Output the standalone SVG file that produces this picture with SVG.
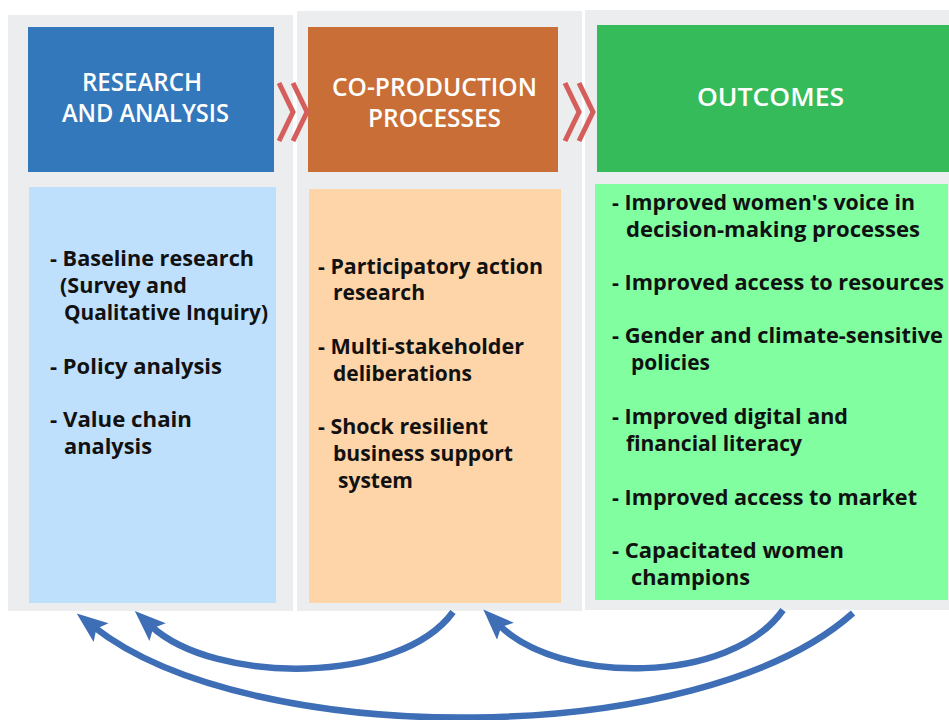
<svg xmlns="http://www.w3.org/2000/svg" width="949" height="720" viewBox="0 0 949 720">
  <style>
    .panel { fill: #ECEDEF; }
    .head { fill: #FFFFFF; font-family: "Open Sans", "Noto Sans", sans-serif; font-weight: 600; font-size: 25px; }
    .body { fill: #111111; font-family: "Open Sans", "Noto Sans", sans-serif; font-weight: 700; font-size: 21px; }
    .chev { fill: none; stroke: #D45E5C; stroke-width: 5; stroke-linejoin: miter; stroke-miterlimit: 10; }
    .loop { fill: none; stroke: #3D6EB6; stroke-width: 6.5; marker-end: url(#head); }
  </style>
  <defs>
    <marker id="head" markerUnits="userSpaceOnUse" markerWidth="36" markerHeight="26" refX="11" refY="12" orient="auto">
      <path d="M33,12 L2,0 L8,12 L2,24 Z" fill="#3D6EB6"/>
    </marker>
  </defs>
  <rect width="949" height="720" fill="#FFFFFF"/>

  <!-- Research and analysis -->
  <g id="research">
    <rect class="panel" x="8" y="15" width="285" height="596"/>
    <rect x="28" y="27" width="246" height="145" fill="#3478BC"/>
    <text class="head" x="82" y="91" textLength="120" lengthAdjust="spacingAndGlyphs">RESEARCH</text>
    <text class="head" x="62" y="122" textLength="167" lengthAdjust="spacingAndGlyphs">AND ANALYSIS</text>
    <rect x="29" y="187" width="247" height="416" fill="#BFE0FC"/>
    <text class="body" x="50" y="266" textLength="204" lengthAdjust="spacingAndGlyphs">- Baseline research</text>
    <text class="body" x="60" y="293" textLength="127" lengthAdjust="spacingAndGlyphs">(Survey and</text>
    <text class="body" x="64" y="320" textLength="204" lengthAdjust="spacingAndGlyphs">Qualitative Inquiry)</text>
    <text class="body" x="50" y="374" textLength="172" lengthAdjust="spacingAndGlyphs">- Policy analysis</text>
    <text class="body" x="50" y="427" textLength="142" lengthAdjust="spacingAndGlyphs">- Value chain</text>
    <text class="body" x="64" y="454" textLength="88" lengthAdjust="spacingAndGlyphs">analysis</text>
  </g>

  <!-- Co-production processes -->
  <g id="coproduction">
    <rect class="panel" x="297" y="11" width="285" height="600"/>
    <rect x="308" y="27" width="250" height="145" fill="#C86E36"/>
    <text class="head" x="332" y="96" textLength="205" lengthAdjust="spacingAndGlyphs">CO-PRODUCTION</text>
    <text class="head" x="368" y="127" textLength="133" lengthAdjust="spacingAndGlyphs">PROCESSES</text>
    <rect x="309" y="189" width="252" height="414" fill="#FED5A8"/>
    <text class="body" x="318" y="274" textLength="225" lengthAdjust="spacingAndGlyphs">- Participatory action</text>
    <text class="body" x="333" y="300" textLength="92" lengthAdjust="spacingAndGlyphs">research</text>
    <text class="body" x="318" y="354" textLength="206" lengthAdjust="spacingAndGlyphs">- Multi-stakeholder</text>
    <text class="body" x="333" y="381" textLength="139" lengthAdjust="spacingAndGlyphs">deliberations</text>
    <text class="body" x="318" y="434" textLength="170" lengthAdjust="spacingAndGlyphs">- Shock resilient</text>
    <text class="body" x="333" y="461" textLength="180" lengthAdjust="spacingAndGlyphs">business support</text>
    <text class="body" x="338" y="488" textLength="75" lengthAdjust="spacingAndGlyphs">system</text>
  </g>

  <!-- Outcomes -->
  <g id="outcomes">
    <rect class="panel" x="585" y="10" width="364" height="600"/>
    <rect x="597" y="25" width="352" height="147" fill="#36BB5A"/>
    <text class="head" x="697" y="106" textLength="147" lengthAdjust="spacingAndGlyphs">OUTCOMES</text>
    <rect x="595" y="184" width="353" height="416" fill="#80FEA0"/>
    <text class="body" x="612" y="210" textLength="303" lengthAdjust="spacingAndGlyphs">- Improved women's voice in</text>
    <text class="body" x="626" y="237" textLength="294" lengthAdjust="spacingAndGlyphs">decision-making processes</text>
    <text class="body" x="612" y="290" textLength="332" lengthAdjust="spacingAndGlyphs">- Improved access to resources</text>
    <text class="body" x="612" y="343" textLength="331" lengthAdjust="spacingAndGlyphs">- Gender and climate-sensitive</text>
    <text class="body" x="631" y="370" textLength="79" lengthAdjust="spacingAndGlyphs">policies</text>
    <text class="body" x="612" y="424" textLength="236" lengthAdjust="spacingAndGlyphs">- Improved digital and</text>
    <text class="body" x="626" y="451" textLength="176" lengthAdjust="spacingAndGlyphs">financial literacy</text>
    <text class="body" x="612" y="505" textLength="305" lengthAdjust="spacingAndGlyphs">- Improved access to market</text>
    <text class="body" x="612" y="558" textLength="232" lengthAdjust="spacingAndGlyphs">- Capacitated women</text>
    <text class="body" x="631" y="585" textLength="119" lengthAdjust="spacingAndGlyphs">champions</text>
  </g>

  <!-- Connectors: forward chevrons and feedback loops -->
  <g id="connectors">
    <polyline class="chev" points="279,83 293,112 279,141"/>
    <polyline class="chev" points="293,83 307,112 293,141"/>
    <polyline class="chev" points="565,83 579,112 565,141"/>
    <polyline class="chev" points="579,83 593,112 579,141"/>
    <path class="loop" d="M453,612 C400,685 215,685 151,626"/>
    <path class="loop" d="M783,610 C730,685 560,685 499,625"/>
    <path class="loop" d="M853,613 C700,750 250,750 94,627"/>
  </g>
</svg>
